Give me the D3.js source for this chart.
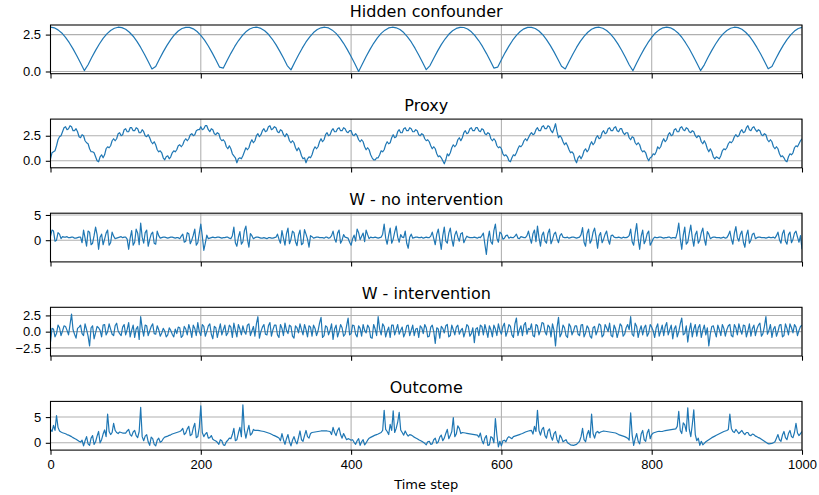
<!DOCTYPE html>
<html>
<head>
<meta charset="utf-8">
<script src="https://cdn.jsdelivr.net/npm/d3@7"></script>
<style>
  body { margin: 0; background: #fff; }
  svg { font-family: "DejaVu Sans", sans-serif; }
  .tick text { font-size: 13px; fill: #000; }
</style>
</head>
<body>
<div id="chart"></div>
<script>
// chart values
var xTicks = [0, 200, 400, 600, 800, 1000];
var titles = ["Hidden confounder", "Proxy", "W - no intervention", "W - intervention", "Outcome"];

// hidden confounder, sampled every 5 time steps
var confounder = [
  3.00,2.96,2.82,2.61,2.31,1.95,1.53,1.07,0.57,0.06,
  0.46,0.96,1.43,1.86,2.24,2.55,2.78,2.93,3.00,2.97,
  2.86,2.66,2.39,2.04,1.63,1.17,0.68,0.17,0.34,0.85,
  1.33,1.77,2.16,2.49,2.74,2.91,2.99,2.99,2.89,2.71,
  2.45,2.12,1.73,1.28,0.80,0.29,0.23,0.74,1.23,1.68,
  2.08,2.42,2.69,2.88,2.98,3.00,2.92,2.76,2.52,2.20,
  1.82,1.38,0.91,0.40,0.11,0.63,1.12,1.58,2.00,2.35,
  2.64,2.84,2.96,3.00,2.95,2.80,2.58,2.28,1.91,1.48,
  1.01,0.52,0.00,0.51,1.01,1.48,1.91,2.28,2.58,2.80,
  2.95,3.00,2.96,2.84,2.64,2.35,2.00,1.58,1.12,0.63,
  0.12,0.40,0.90,1.38,1.82,2.20,2.52,2.76,2.92,2.99,
  2.98,2.88,2.69,2.42,2.08,1.68,1.23,0.74,0.23,0.29,
  0.79,1.28,1.72,2.12,2.45,2.71,2.89,2.99,2.99,2.91,
  2.74,2.49,2.16,1.77,1.33,0.85,0.35,0.17,0.68,1.17,
  1.63,2.04,2.38,2.66,2.86,2.97,3.00,2.93,2.78,2.55,
  2.24,1.87,1.44,0.96,0.46,0.05,0.57,1.07,1.53,1.95,
  2.31,2.61,2.82,2.96,3.00,2.96,2.82,2.61,2.32,1.95,
  1.54,1.07,0.57,0.06,0.45,0.96,1.43,1.86,2.24,2.55,
  2.78,2.93,3.00,2.97,2.86,2.66,2.39,2.04,1.63,1.18,
  0.69,0.18,0.34,0.85,1.33,1.77,2.16,2.48,2.74,2.91,
  2.99
];

// proxy, every 2 time steps
var proxy = [
  0.2,0.8,0.9,1.0,1.5,2.1,2.4,2.5,2.9,3.3,3.4,3.1,3.2,3.5,3.4,3.0,3.0,3.2,2.9,2.4,2.3,2.6,2.5,2.0,1.8,1.7,1.2,0.9,0.9,0.8,0.4,0.0,-0.1,0.4,0.6,0.3,0.6,1.2,1.4,1.3,1.5,2.0,2.2,2.0,2.2,2.7,2.8,2.5,2.6,3.1,
  3.2,2.9,2.9,3.3,3.3,3.0,3.0,3.3,3.2,2.8,2.8,3.1,2.9,2.5,2.4,2.6,2.3,1.9,1.7,1.9,1.6,1.1,0.9,1.0,0.8,0.3,0.1,0.4,0.5,0.2,0.4,0.8,1.0,0.9,1.1,1.5,1.6,1.4,1.6,2.0,2.2,2.0,2.2,2.6,2.7,2.5,2.6,3.0,3.1,3.1,
  3.4,3.1,3.2,3.5,3.5,3.1,2.9,3.2,3.1,2.7,2.6,2.8,2.7,2.2,2.0,2.1,1.9,1.4,1.2,1.5,1.2,0.7,0.5,0.3,-0.2,0.2,0.3,0.2,0.5,0.9,1.3,1.1,1.3,1.8,2.1,1.8,2.0,2.5,2.7,2.4,2.6,3.0,3.2,2.9,3.0,3.4,3.5,3.1,3.2,3.4,
  3.3,2.9,2.8,3.1,3.0,2.6,2.4,2.7,2.5,2.0,1.8,2.0,1.8,1.3,1.0,1.3,1.0,0.5,0.2,0.3,-0.2,0.2,0.4,0.3,0.6,1.1,1.4,1.2,1.4,1.9,2.2,1.9,2.1,2.6,2.8,2.5,2.6,3.0,3.2,2.9,2.9,3.2,3.3,3.0,3.0,3.3,3.2,2.9,2.8,3.0,
  3.0,2.6,2.5,2.7,2.5,2.1,1.9,2.1,1.9,1.4,1.1,1.3,1.1,0.6,0.3,0.1,0.1,0.3,0.3,0.6,1.0,0.9,1.1,1.6,1.9,1.7,1.8,2.3,2.6,2.3,2.4,2.9,3.1,2.8,2.8,3.2,3.3,3.0,3.0,3.3,3.2,2.9,2.9,3.1,3.0,2.6,2.5,2.7,2.6,2.2,
  2.0,2.1,1.9,1.5,1.2,1.4,1.2,0.7,0.4,0.5,0.3,0.0,-0.3,0.1,0.7,0.5,0.8,1.3,1.6,1.4,1.6,2.1,2.3,2.0,2.3,2.8,3.0,2.7,2.8,3.2,3.3,3.0,3.0,3.3,3.3,3.0,2.9,3.2,3.1,2.7,2.6,2.8,2.7,2.2,2.0,2.2,2.0,1.5,1.3,1.4,
  1.2,0.7,0.5,0.6,0.4,0.0,-0.1,0.3,0.6,0.5,0.8,1.2,1.5,1.4,1.6,2.0,2.2,2.0,2.3,2.6,2.8,2.6,2.7,3.1,3.3,3.0,3.0,3.4,3.5,3.2,3.2,3.5,3.4,3.0,2.8,3.2,3.7,2.9,2.3,2.5,2.3,1.9,1.6,1.8,1.5,1.1,0.8,0.9,0.7,0.1,
  -0.2,0.3,0.5,0.2,0.5,1.0,1.2,0.9,1.1,1.6,1.9,1.6,1.8,2.3,2.5,2.2,2.3,2.8,3.0,2.7,2.8,3.2,3.3,3.0,3.0,3.3,3.4,3.0,2.9,3.2,3.2,2.8,2.6,2.8,2.8,2.3,2.1,2.4,2.3,1.8,1.6,1.8,1.6,1.1,0.9,1.0,0.8,0.3,0.0,0.3,
  0.4,0.7,0.6,0.9,1.4,1.2,1.4,1.9,2.2,1.9,2.1,2.6,2.8,2.5,2.6,3.1,3.2,2.9,2.9,3.3,3.4,3.1,3.0,3.3,3.2,2.9,2.8,3.0,2.9,2.5,2.3,2.5,2.4,1.9,1.7,2.0,1.7,1.2,0.9,1.2,0.9,0.4,0.2,0.4,0.3,0.2,0.5,1.0,1.2,1.1,
  1.3,1.7,1.9,1.8,2.0,2.4,2.6,2.4,2.5,2.9,3.1,2.8,2.9,3.3,3.5,3.1,3.0,3.3,3.4,3.1,2.9,3.1,3.0,2.6,2.5,2.7,2.6,2.1,1.9,2.1,1.9,1.4,1.2,1.4,1.2,0.7,0.4,0.5,0.3,0.0,-0.1,0.4,0.7,0.6,0.8,1.3,1.5,1.4,1.7,2.0,
  2.2
];

// W without intervention, every 2 time steps
var wNoIntervention = [
  0.8,2.0,1.8,-0.2,0.0,1.5,1.2,0.3,0.7,0.6,0.6,0.7,0.5,0.5,0.6,0.6,0.4,0.4,0.5,0.6,0.6,-0.5,2.0,0.4,-1.2,1.8,1.6,-0.9,-0.6,0.9,2.6,1.1,-1.8,0.6,1.2,-0.9,0.2,1.4,2.0,-1.0,-0.5,1.6,0.8,0.3,0.4,0.5,0.6,0.7,0.5,0.6,
  0.6,0.2,-1.8,0.4,1.9,-1.0,-0.4,2.2,1.4,-0.9,3.4,0.6,-0.6,1.5,2.0,-1.2,0.1,1.2,1.6,-0.6,-0.8,1.8,0.9,0.4,0.5,0.6,0.6,0.5,0.4,0.5,0.6,0.6,0.5,0.4,0.5,0.5,0.3,0.8,1.2,-0.4,-0.2,1.5,1.3,-0.7,0.0,1.0,2.2,-1.0,-0.5,1.4,
  3.2,0.8,-2.0,-0.6,1.0,0.3,0.4,0.5,0.6,0.5,0.5,0.6,0.6,0.5,0.4,0.5,0.5,0.6,0.6,0.4,0.3,0.9,2.6,-0.5,-1.2,0.6,1.7,-0.8,-0.3,1.9,2.8,0.2,-1.4,1.3,0.9,0.3,0.5,0.6,0.6,0.5,0.4,0.4,0.5,0.4,0.3,0.5,0.5,0.4,0.4,0.5,
  0.6,1.2,0.2,-0.6,1.9,0.4,-1.0,1.3,2.4,-0.7,0.2,1.8,1.5,-0.3,-1.1,1.0,2.0,-0.9,-0.6,2.1,1.2,0.2,-1.4,0.9,0.7,0.4,0.5,0.6,0.6,0.5,0.5,0.5,0.4,0.6,0.6,0.4,0.5,0.9,1.8,0.3,-0.4,1.4,2.0,-0.6,0.0,1.1,0.6,0.5,0.4,-0.4,
  -1.0,0.3,1.0,-0.2,2.2,1.5,0.1,0.8,1.4,-0.3,2.0,1.1,0.3,0.6,0.5,0.5,0.6,0.5,0.4,0.5,0.6,1.2,3.2,0.4,-0.8,1.0,2.4,-0.6,0.2,1.6,2.8,0.6,-0.4,1.1,0.6,0.5,1.8,-0.6,-1.6,0.6,1.2,0.4,0.5,0.6,0.6,0.5,0.5,0.6,0.4,0.5,
  0.6,0.5,0.5,0.8,1.6,0.3,-0.9,1.2,2.2,0.1,-1.8,0.9,2.6,-0.2,-0.6,1.4,2.4,0.2,-1.2,1.0,1.8,0.6,-0.2,1.3,1.5,-0.5,0.2,0.8,0.6,0.5,0.5,0.5,0.6,0.5,0.4,0.6,0.5,0.9,1.4,-0.8,-2.8,0.2,1.8,-0.3,-0.8,1.9,3.2,0.4,-0.4,1.6,
  1.3,0.2,0.4,0.9,1.0,0.4,0.6,0.5,0.5,0.8,1.2,0.4,0.3,0.7,0.6,0.5,0.5,0.9,1.8,0.4,-0.6,1.3,2.0,-0.3,2.8,0.5,-1.2,1.0,1.6,-0.2,-0.6,1.4,2.2,-0.7,0.1,1.2,1.6,0.3,-0.5,0.9,1.3,0.6,0.5,0.5,0.6,0.4,0.5,0.6,0.6,0.5,
  0.4,0.5,0.6,1.1,2.5,-0.4,-1.2,1.3,2.2,-0.6,0.0,1.6,2.4,0.6,-1.6,0.9,1.5,-0.5,0.2,1.2,1.8,0.1,-0.8,0.9,1.0,0.6,0.5,0.5,0.6,0.5,0.4,0.6,0.5,0.5,0.6,0.9,2.2,-0.3,-1.0,1.4,3.3,0.2,-1.8,0.8,2.0,-0.7,0.0,1.3,1.8,-1.0,
  -0.4,0.3,0.6,0.5,0.5,0.6,0.6,0.5,0.4,0.5,0.5,0.6,0.6,0.4,0.5,0.5,0.4,1.5,3.4,0.3,-1.8,1.0,2.6,-0.8,-0.4,1.4,3.0,0.5,-1.2,1.1,1.8,-0.6,0.0,1.5,2.4,0.2,-1.0,1.7,1.2,0.3,0.5,0.6,0.6,0.5,0.5,0.5,0.4,0.5,0.6,0.4,
  0.5,1.0,1.8,0.2,-0.8,1.4,2.7,0.5,-0.2,1.2,1.8,-0.4,-1.4,1.0,2.0,-0.6,0.0,1.2,1.4,0.3,0.5,0.6,0.6,0.5,0.5,0.5,0.4,0.5,0.6,0.5,0.5,0.6,0.4,0.9,1.6,0.1,-0.6,1.3,2.0,-0.2,-0.8,1.1,1.6,-0.5,0.2,1.4,1.8,0.6,-0.4,0.9,
  -1.8
];

// W with intervention, every 2 time steps
var wIntervention = [
  -1.6,0.5,0.4,-0.8,-0.3,1.0,0.6,-0.6,0.1,0.9,0.8,0.2,-0.5,1.1,2.7,0.3,-0.4,-1.0,0.5,0.7,1.0,-0.3,-0.6,1.2,0.3,-0.7,-2.2,0.6,0.9,-1.1,-0.2,0.8,0.6,0.2,-0.8,1.0,1.1,-0.5,0.0,1.2,0.4,-0.4,-0.6,0.9,1.3,0.1,-0.3,-0.6,0.7,1.1,
  -0.5,0.3,1.4,-0.8,0.2,1.0,-0.9,0.4,0.8,-1.2,2.3,0.5,-0.7,1.0,0.9,-0.6,0.1,0.8,1.2,-0.3,-0.4,0.9,0.3,-0.7,-0.2,0.5,0.1,-0.8,-0.5,0.6,0.2,-0.4,-0.8,0.4,-0.3,0.7,0.6,-0.9,-0.6,0.8,0.4,-0.5,1.1,0.3,-0.9,1.0,0.5,-0.6,1.4,0.0,
  -0.6,1.1,0.8,-0.7,0.0,0.9,1.2,-0.4,-1.1,0.8,0.6,-0.9,0.2,1.2,-0.5,0.3,1.0,-0.6,-0.2,1.0,0.7,-0.9,1.3,0.2,-0.8,1.1,0.4,-0.5,0.9,0.0,-0.4,1.0,1.2,-0.6,0.1,0.8,-0.7,1.2,2.3,-1.0,0.0,0.7,1.1,-0.4,-0.5,0.9,1.4,-0.7,0.3,1.0,
  1.0,-0.5,-0.9,1.1,0.5,-0.6,1.3,0.2,-0.3,1.0,0.8,-0.7,-1.0,0.9,0.6,-0.2,1.2,0.3,-0.5,1.1,0.3,-0.8,0.9,0.7,-0.7,1.0,0.5,-0.6,0.1,1.3,2.2,-0.9,-0.6,0.9,0.7,-0.5,0.2,1.2,-1.2,0.4,1.0,-0.8,0.0,1.1,0.6,-0.7,-0.4,0.9,2.1,-0.5,
  -0.3,1.0,0.9,-0.4,-0.8,0.9,0.5,-0.7,1.1,0.2,-0.2,1.0,0.6,-0.9,-1.0,1.1,0.4,-0.6,2.3,0.4,-0.5,1.2,0.8,-0.8,0.1,0.7,-0.9,1.0,1.0,-0.5,0.3,1.1,-0.4,0.2,0.7,-0.8,-0.2,0.9,1.0,-0.6,0.2,1.0,-0.6,0.4,0.5,-0.9,0.9,0.6,-0.3,1.1,
  0.6,-0.8,-0.7,0.7,1.0,0.0,-1.8,0.6,0.4,-1.0,0.8,0.5,-0.2,0.9,1.1,-0.8,-0.6,1.0,0.3,-0.5,0.7,1.0,-0.4,0.2,0.5,-0.8,0.0,1.1,0.8,-0.7,-0.3,0.6,-1.7,0.4,0.6,-0.6,1.0,0.8,-0.5,1.1,0.2,-0.9,0.9,0.3,-0.8,1.0,0.4,-0.6,1.2,0.2,
  -0.4,0.8,1.3,-0.7,0.0,1.1,0.8,-0.5,-0.9,1.2,2.1,-0.6,0.3,0.9,-0.6,1.0,1.4,-0.4,0.5,0.3,1.2,-0.6,-0.8,1.1,0.9,-0.5,0.2,1.4,1.3,0.0,-0.5,1.0,0.7,-0.8,1.2,0.2,-2.2,0.6,2.2,-0.8,-0.3,1.0,0.6,-0.6,-0.9,1.2,0.8,-0.5,0.1,0.9,
  0.9,-0.4,-0.6,1.0,1.1,-0.8,-0.2,0.9,0.5,-0.7,-1.0,0.6,0.8,-0.5,0.2,1.2,1.0,-0.8,-0.5,1.1,0.6,0.0,1.3,-0.6,-0.8,1.0,0.4,-0.9,0.0,1.2,0.9,-0.7,-0.4,0.6,1.1,0.3,2.3,-0.4,-0.7,1.3,0.8,-0.9,0.2,0.9,-0.5,0.6,1.0,-0.7,-0.2,1.1,
  0.7,0.1,-0.9,0.6,1.2,-0.7,0.1,1.0,-0.6,0.8,1.4,-0.5,0.3,1.0,-1.1,0.4,0.9,-0.8,0.0,1.2,2.1,-0.5,-0.3,0.9,-1.6,0.2,1.3,-0.8,0.4,1.1,-0.7,0.6,1.1,-0.9,0.2,1.0,-0.5,0.6,-2.2,-0.4,0.8,0.9,0.0,-0.8,1.0,0.3,-0.6,1.1,0.5,-0.7,
  0.3,0.9,1.1,-0.6,-0.8,1.1,0.6,-0.5,1.2,0.3,-0.4,1.0,0.9,-0.8,0.1,1.2,-0.7,0.5,1.0,-0.6,0.4,1.0,1.3,-0.7,-0.3,0.8,2.3,-0.4,0.2,1.1,-0.9,0.4,0.8,-0.7,0.0,1.0,1.1,-0.8,-0.6,1.2,0.5,-0.5,1.2,0.6,-0.2,1.1,0.7,-0.6,0.2,0.8,
  1.0
];

// outcome, every 2 time steps
var outcome = [
  2.6,2.2,3.4,2.4,5.3,3.0,2.3,2.1,1.95,1.85,1.75,1.6,1.5,1.35,1.2,1.0,0.85,0.7,0.5,0.3,0.15,0.5,-0.6,0.4,1.2,-0.2,-0.5,0.9,1.4,-0.3,0.2,1.3,2.2,0.0,0.6,1.7,2.5,1.2,5.6,2.2,1.6,2.0,3.8,2.4,2.0,1.8,2.1,2.0,1.9,1.9,
  1.9,2.3,2.6,1.6,1.3,2.1,2.4,1.4,1.0,2.2,6.9,1.2,0.4,1.3,1.6,0.2,-0.5,1.1,0.8,-0.3,-0.6,0.5,0.9,0.1,0.3,0.8,1.1,1.2,1.3,1.45,1.55,1.7,1.8,1.9,2.0,2.1,2.2,2.4,2.8,1.6,1.9,2.7,3.2,1.4,1.6,2.9,3.8,1.0,1.2,3.0,
  7.2,2.0,1.2,1.7,2.0,0.9,1.0,1.4,0.7,0.5,0.35,0.1,-0.3,0.6,0.4,-0.4,-0.5,0.2,0.5,0.9,0.8,1.6,2.8,0.4,0.6,1.9,3.0,1.2,7.4,2.5,0.9,2.3,3.4,1.5,1.8,2.6,2.4,2.4,2.4,2.35,2.3,2.25,2.2,2.1,2.0,1.9,1.8,1.65,1.5,1.4,
  1.25,1.1,0.95,0.4,1.8,0.6,-0.3,0.8,1.6,0.2,-0.6,0.5,1.2,0.3,-0.2,1.0,2.3,0.6,0.3,1.4,2.4,1.2,0.9,1.8,2.0,2.05,2.1,2.15,2.2,2.25,2.3,2.3,2.3,2.3,2.3,2.25,2.2,1.6,3.0,2.0,1.4,2.4,2.9,1.6,0.9,1.8,1.2,0.6,0.8,0.7,
  0.5,0.6,0.1,-0.3,0.4,0.8,-0.5,0.2,0.6,-0.4,0.0,0.5,0.9,1.05,1.2,1.35,1.5,1.6,1.7,1.85,2.0,2.4,6.3,2.6,2.2,1.6,3.6,2.4,6.2,2.0,2.8,4.0,5.9,2.5,2.0,1.5,2.3,1.7,1.3,1.6,1.5,1.3,1.1,0.95,0.8,0.6,0.45,0.3,0.1,-0.1,
  -0.4,0.2,0.3,-0.3,-0.2,0.6,0.9,-0.1,0.2,1.1,1.5,0.4,0.9,1.8,2.6,0.8,1.4,2.2,4.9,1.2,1.7,3.3,2.8,1.8,2.0,1.95,1.9,1.85,1.8,1.75,1.7,1.65,1.6,1.55,1.5,1.1,1.9,0.5,-0.2,0.9,1.4,-0.5,-0.4,1.2,1.0,0.0,4.7,1.5,-0.8,0.3,
  -0.6,0.4,0.5,0.2,0.9,1.2,1.0,0.8,1.2,1.3,1.4,1.5,1.6,1.7,1.8,1.95,2.1,2.2,2.3,2.35,2.4,1.7,3.2,2.2,6.3,2.4,1.5,2.6,3.0,1.4,0.9,2.3,2.7,1.2,0.5,1.8,2.2,0.6,0.0,1.5,1.0,0.2,0.4,0.6,0.0,-0.2,-0.4,-0.45,-0.5,-0.4,
  -0.3,0.0,0.3,1.2,2.8,0.6,0.2,1.6,2.4,1.0,5.6,1.8,0.9,2.0,2.2,1.9,2.1,2.2,2.3,2.25,2.2,2.15,2.1,2.05,2.0,1.95,1.9,1.75,1.6,1.5,1.4,1.3,1.2,1.05,0.9,0.5,5.8,1.5,-0.5,0.8,1.8,0.3,-0.2,1.7,2.4,0.6,0.3,1.9,2.6,0.8,
  1.6,1.9,2.0,2.1,2.2,2.25,2.2,2.2,2.3,2.35,2.4,2.45,2.5,2.55,2.6,2.65,2.7,3.2,6.1,2.4,1.8,3.9,3.5,2.2,6.8,2.6,1.2,3.5,6.4,1.6,0.4,0.9,-0.5,0.3,-0.4,-0.1,0.2,0.4,0.6,0.8,1.0,1.15,1.3,1.45,1.6,1.75,1.9,2.05,2.2,2.3,
  2.4,2.6,5.6,2.8,2.2,2.0,2.6,2.2,1.8,2.1,2.4,1.9,1.6,2.0,2.0,1.5,1.4,1.7,1.6,1.3,1.2,1.0,0.9,0.7,0.5,0.3,0.1,-0.1,-0.2,-0.15,-0.1,0.0,0.2,0.9,1.6,0.6,0.3,1.5,2.2,1.0,0.6,1.8,2.4,1.2,1.0,2.0,3.8,1.9,1.4,1.8,
  2.2
];

var series = [confounder, proxy, wNoIntervention, wIntervention, outcome];
var sampleStep = [5, 2, 2, 2, 2];
var yLimits = [[-0.15, 3.15], [-0.7, 4.16], [-4.3, 5.35], [-3.75, 3.75], [-1.42, 8.05]];
var yTicks = [[0, 2.5], [0, 2.5], [0, 5], [-2.5, 0, 2.5], [0, 5]];
var yFormats = [".1f", ".1f", "d", ".1f", "d"];

// layout
var W = 819, H = 495;
var left = 50.5, right = 802;
var firstTop = 25, step = 94.1, panelH = 48.7;
var tick = 4.7, pad = 4.7;
var blue = "#1f77b4";

var svg = d3.select("#chart").append("svg")
    .attr("width", W)
    .attr("height", H);

var x = d3.scaleLinear().domain([0, 1000]).range([0, right - left]);

function minusSign(fmt) {
  var f = d3.format(fmt);
  return function(d) { return f(d).replace("-", "\u2212"); };
}

series.forEach(function(values, k) {
  var top = firstTop + k * step;
  var g = svg.append("g").attr("transform", "translate(" + left + "," + top + ")");

  var y = d3.scaleLinear().domain(yLimits[k]).range([panelH, 0]);
  var t = d3.range(values.length).map(function(i) { return i * sampleStep[k]; });

  g.append("clipPath").attr("id", "clip" + k)
    .append("rect").attr("width", right - left).attr("height", panelH);

  // grid
  g.selectAll(".vgrid").data(xTicks).enter().append("line")
      .attr("x1", function(d) { return x(d); })
      .attr("x2", function(d) { return x(d); })
      .attr("y1", 0).attr("y2", panelH)
      .attr("stroke", "#b0b0b0").attr("stroke-width", 1.07);
  g.selectAll(".hgrid").data(yTicks[k]).enter().append("line")
      .attr("x1", 0).attr("x2", right - left)
      .attr("y1", function(d) { return y(d); })
      .attr("y2", function(d) { return y(d); })
      .attr("stroke", "#b0b0b0").attr("stroke-width", 1.07);

  // the series
  var line = d3.line()
      .x(function(d, i) { return x(t[i]); })
      .y(function(d) { return y(d); });
  g.append("path")
      .datum(values)
      .attr("clip-path", "url(#clip" + k + ")")
      .attr("fill", "none")
      .attr("stroke", blue)
      .attr("stroke-width", 1.2)
      .attr("stroke-linejoin", "round")
      .attr("d", line);

  // axes
  var yAxis = d3.axisLeft(y).tickValues(yTicks[k]).tickFormat(minusSign(yFormats[k]))
      .tickSize(tick).tickPadding(pad);
  g.append("g").call(yAxis).call(function(a) { a.select(".domain").remove(); });

  var xAxis = d3.axisBottom(x).tickValues(xTicks).tickSize(tick).tickPadding(pad)
      .tickFormat(k < series.length - 1 ? "" : d3.format("d"));
  g.append("g").attr("transform", "translate(0," + panelH + ")")
      .call(xAxis).call(function(a) { a.select(".domain").remove(); });

  g.selectAll(".tick line").attr("stroke", "#000").attr("stroke-width", 1.07);

  // frame
  g.append("rect")
      .attr("width", right - left).attr("height", panelH)
      .attr("fill", "none").attr("stroke", "#000").attr("stroke-width", 1.07);

  // title
  g.append("text")
      .attr("x", (right - left) / 2)
      .attr("y", -8)
      .attr("text-anchor", "middle")
      .style("font-size", "16px")
      .text(titles[k]);
});

// text label for the x axis
svg.append("text")
    .attr("x", (left + right) / 2)
    .attr("y", 489)
    .attr("text-anchor", "middle")
    .style("font-size", "13px")
    .text("Time step");
</script>
</body>
</html>
